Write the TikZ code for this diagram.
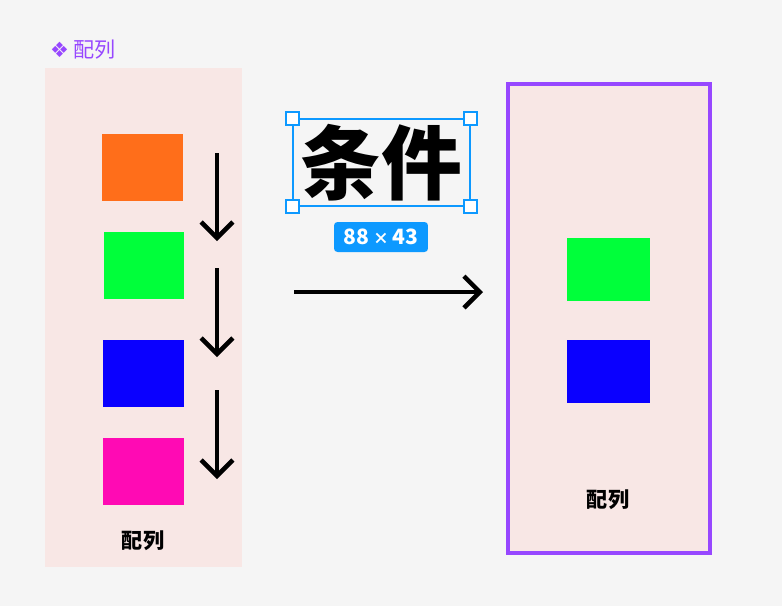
\documentclass[tikz,border=0pt]{standalone}
\usepackage{fontspec}
\setmainfont{Noto Sans CJK SC}
\newfontfamily\symfont{DejaVu Sans}
\usetikzlibrary{arrows.meta}
\definecolor{bgGray}{HTML}{F5F5F5}
\definecolor{panelPink}{HTML}{F8E7E5}
\definecolor{framePurple}{HTML}{9747FF}
\definecolor{selBlue}{HTML}{0D99FF}
\definecolor{cOrange}{HTML}{FF6E1A}
\definecolor{cGreen}{HTML}{00FF3A}
\definecolor{cBlue}{HTML}{0A00FF}
\definecolor{cMagenta}{HTML}{FF0AB4}
\tikzset{
  block/.style={draw=none, minimum width=1.62cm, minimum height=1.34cm, inner sep=0pt},
  flow/.style={line width=2.6pt, -{Straight Barb[length=9pt,width=18pt,line width=2.6pt]}},
  handle/.style={draw=selBlue, fill=white, line width=0.8pt, minimum size=0.26cm, inner sep=0pt},
  caption/.style={font=\bfseries\large}
}
\begin{document}
\begin{tikzpicture}[x=0.02cm,y=-0.02cm]
\fill[bgGray] (0,0) rectangle (782,606);
\useasboundingbox (0,0) rectangle (782,606);

% ======================
% Source array
% ======================
\node[text=framePurple, anchor=west, font=\large] (tag) at (44,50) {{\symfont ❖} 配列};
\fill[panelPink] (45,68) rectangle (242,567);
\node[block, fill=cOrange] (orange) at (142.5,167.5) {};
\node[block, fill=cGreen] (green) at (144,265.5) {};
\node[block, fill=cBlue] (blue) at (143.5,373.5) {};
\node[block, fill=cMagenta] (magenta) at (143.5,471.5) {};
\node[caption] (leftcap) at (143,541) {配列};

\coordinate (a1) at (217,153); \coordinate (b1) at (217,241);
\coordinate (a2) at (217,268); \coordinate (b2) at (217,357);
\coordinate (a3) at (217,390); \coordinate (b3) at (217,479);
\foreach \i in {1,2,3}
  \draw[flow] (a\i) -- (b\i);

% ======================
% Condition
% ======================
\node[font=\bfseries\fontsize{46}{46}\selectfont, draw=selBlue, line width=0.8pt,
  minimum width=3.54cm, minimum height=1.74cm, inner sep=0pt] (cond) at (381.5,162.5) {条件};
\foreach \c in {north west,north east,south west,south east}
  \node[handle] at (cond.\c) {};
\node[fill=selBlue, text=white, rounded corners=2pt, minimum width=1.88cm,
  minimum height=0.6cm, inner sep=0pt, font=\bfseries\large] (size) at (381,237) {88\,{\small×}\,43};

\coordinate (from) at (294,292);
\coordinate (to) at (483,292);
\draw[flow] (from) -- (to);

% ======================
% Result array
% ======================
\draw[framePurple, fill=panelPink, line width=2.2pt] (508,84) rectangle (710,553);
\node[block, fill=cGreen, minimum width=1.66cm, minimum height=1.26cm] (rgreen) at (608.5,269.5) {};
\node[block, fill=cBlue, minimum width=1.66cm, minimum height=1.26cm] (rblue) at (608.5,371.5) {};
\node[caption] (rightcap) at (608,500) {配列};
\end{tikzpicture}
\end{document}
